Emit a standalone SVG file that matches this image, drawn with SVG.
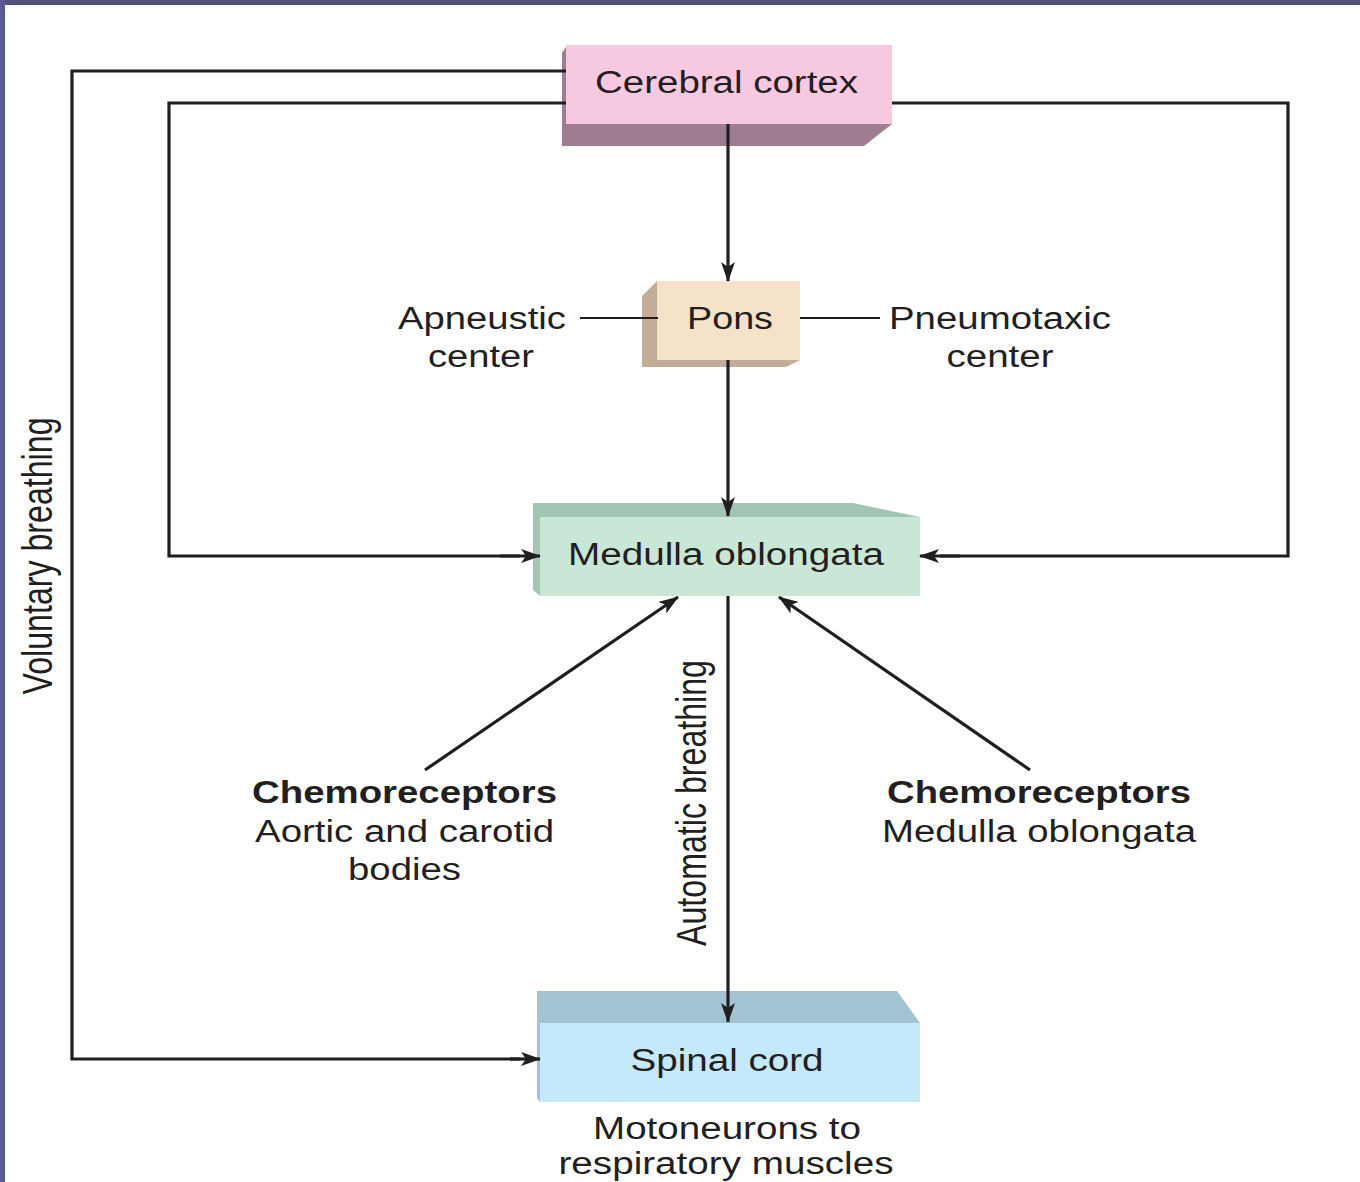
<svg xmlns="http://www.w3.org/2000/svg" width="1360" height="1182" viewBox="0 0 1360 1182">
<defs>
<marker id="ah" markerUnits="userSpaceOnUse" markerWidth="20" markerHeight="14" refX="19" refY="7" orient="auto">
<path d="M0,0 L20,7 L0,14 L5,7 z" fill="#1f1f1f"/>
</marker>
</defs>
<style>
.t{font-family:"Liberation Sans",Arial,sans-serif;font-size:31px;fill:#231f20;text-anchor:middle}
.b{font-weight:bold}
.ln{fill:none;stroke:#1f1f1f;stroke-width:3.2}
.thin{fill:none;stroke:#1f1f1f;stroke-width:1.8}
.ar{marker-end:url(#ah)}
</style>
<rect x="0" y="0" width="1360" height="1182" fill="#ffffff"/>
<rect x="0" y="0" width="1360" height="5" fill="#51517b"/>
<rect x="0" y="0" width="5" height="1182" fill="#595990"/>

<g id="cerebral-cortex">
<polygon points="566,47 562,53 562,146 864,146 892,124 566,124" fill="#9e7c91"/>
<rect x="566" y="45" width="326" height="79" fill="#f6c9e0"/>
<text class="t" x="726.5" y="93" textLength="263" lengthAdjust="spacingAndGlyphs">Cerebral cortex</text>
</g>

<g id="pons">
<polygon points="657,281 642,296 642,367 786,367 800,360 657,360" fill="#c3ad98"/>
<rect x="657" y="281" width="143" height="79" fill="#f5e2c9"/>
<text class="t" x="730" y="329" textLength="86" lengthAdjust="spacingAndGlyphs">Pons</text>
</g>

<g id="apneustic">
<text class="t" x="482" y="329" textLength="168" lengthAdjust="spacingAndGlyphs">Apneustic</text>
<text class="t" x="481" y="367" textLength="106" lengthAdjust="spacingAndGlyphs">center</text>
</g>

<g id="pneumotaxic">
<text class="t" x="1000" y="329" textLength="222" lengthAdjust="spacingAndGlyphs">Pneumotaxic</text>
<text class="t" x="1000" y="367" textLength="107" lengthAdjust="spacingAndGlyphs">center</text>
</g>

<g id="medulla-oblongata">
<polygon points="533,503 853,503 920,517 540,517 540,596 533,590" fill="#a3c5b5"/>
<rect x="540" y="517" width="380" height="79" fill="#c9e7d6"/>
<text class="t" x="726" y="565" textLength="316" lengthAdjust="spacingAndGlyphs">Medulla oblongata</text>
</g>

<g id="chemo-peripheral">
<text class="t b" x="404.5" y="803" textLength="305" lengthAdjust="spacingAndGlyphs">Chemoreceptors</text>
<text class="t" x="404.5" y="842" textLength="299" lengthAdjust="spacingAndGlyphs">Aortic and carotid</text>
<text class="t" x="404.5" y="880" textLength="113" lengthAdjust="spacingAndGlyphs">bodies</text>
</g>

<g id="chemo-central">
<text class="t b" x="1039" y="803" textLength="304" lengthAdjust="spacingAndGlyphs">Chemoreceptors</text>
<text class="t" x="1039" y="842" textLength="314" lengthAdjust="spacingAndGlyphs">Medulla oblongata</text>
</g>

<g id="spinal-cord">
<polygon points="537,991 897,991 920,1023 540,1023 540,1102 537,1098" fill="#a2c3d3"/>
<rect x="540" y="1023" width="380" height="79" fill="#c4e9fa"/>
<text class="t" x="727" y="1071" textLength="193" lengthAdjust="spacingAndGlyphs">Spinal cord</text>
<text class="t" x="727" y="1139" textLength="268" lengthAdjust="spacingAndGlyphs">Motoneurons to</text>
<text class="t" x="726" y="1174" textLength="335" lengthAdjust="spacingAndGlyphs">respiratory muscles</text>
</g>

<g id="labels">
<text class="t" transform="translate(52,556) scale(1.3,1) rotate(-90)" x="0" y="0" style="font-size:32px" textLength="277" lengthAdjust="spacingAndGlyphs">Voluntary breathing</text>
<text class="t" transform="translate(706,803) scale(1.3,1) rotate(-90)" x="0" y="0" style="font-size:32px" textLength="286" lengthAdjust="spacingAndGlyphs">Automatic breathing</text>
</g>

<g id="connectors">
<polyline class="ln" points="566,71 72,71 72,1059 520,1059"/>
<line class="ln ar" x1="510" y1="1059" x2="540" y2="1059"/>
<polyline class="ln" points="566,103 169,103 169,556 520,556"/>
<line class="ln ar" x1="500" y1="556" x2="540" y2="556"/>
<polyline class="ln" points="892,103 1288,103 1288,556 940,556"/>
<line class="ln ar" x1="960" y1="556" x2="920" y2="556"/>
<line class="ln ar" x1="728" y1="124" x2="728" y2="281"/>
<line class="ln ar" x1="728" y1="360" x2="728" y2="516"/>
<line class="ln ar" x1="728" y1="596" x2="728" y2="1022"/>
<line class="ln ar" x1="425" y1="770" x2="678" y2="597"/>
<line class="ln ar" x1="1030" y1="770" x2="779" y2="597"/>
<line class="thin" x1="580" y1="318" x2="658" y2="318"/>
<line class="thin" x1="800" y1="318" x2="880" y2="318"/>
</g>
</svg>
